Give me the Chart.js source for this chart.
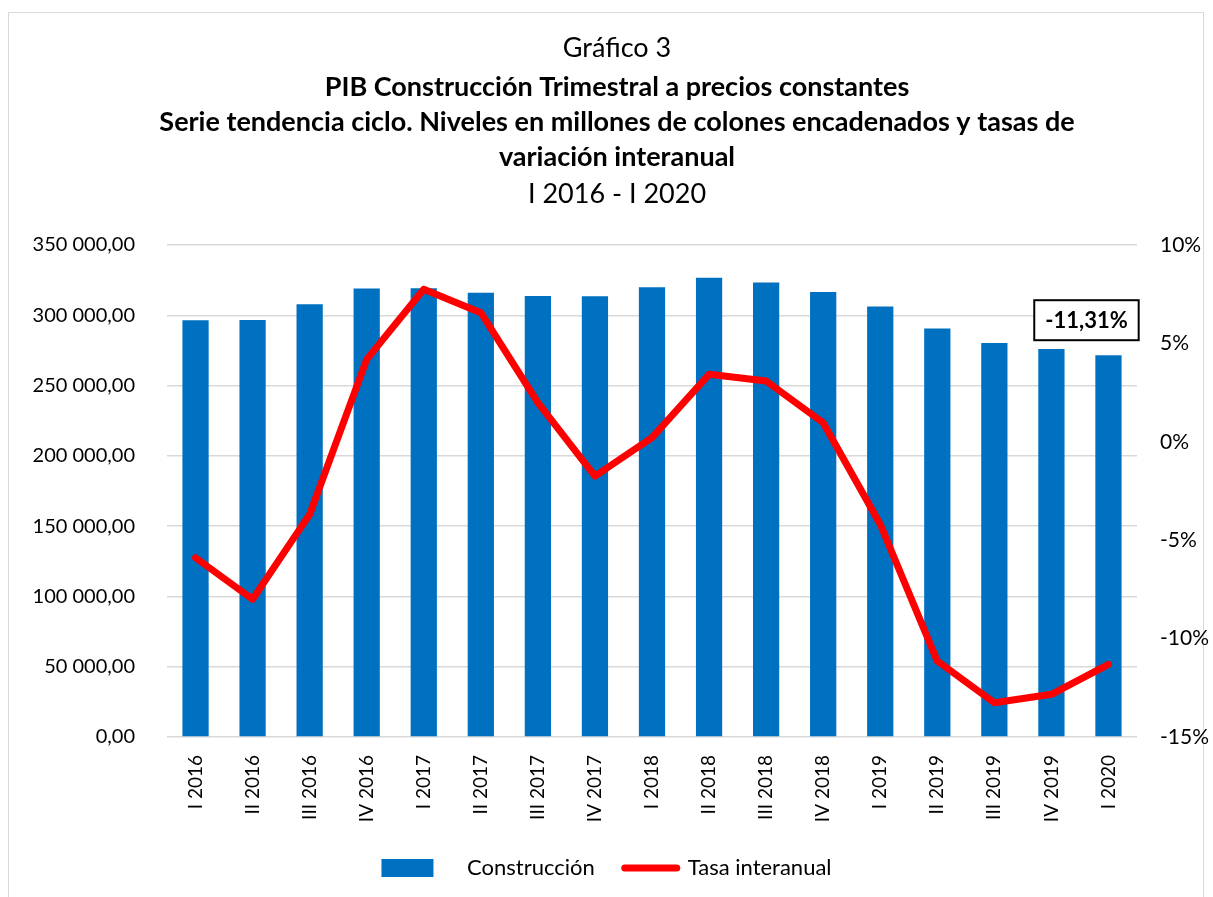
<!DOCTYPE html>
<html>
<head>
<meta charset="utf-8">
<script src="https://cdn.jsdelivr.net/npm/chart.js@4.4.1/dist/chart.umd.min.js"></script>
<style>
  html, body { margin: 0; padding: 0; background: #fff; }
  #wrap { position: relative; width: 1213px; height: 897px; }
  #frame { position: absolute; left: 8px; top: 12px; width: 1196px; height: 900px; border: 1px solid #d9d9d9; box-sizing: border-box; }
  canvas { position: absolute; left: 0; top: 0; }
</style>
</head>
<body>
<div id="wrap">
  <div id="frame"></div>
  <canvas id="pibChart" width="1213" height="897"></canvas>
</div>
<script>
  const quarters = ['I 2016', 'II 2016', 'III 2016', 'IV 2016', 'I 2017', 'II 2017', 'III 2017', 'IV 2017',
    'I 2018', 'II 2018', 'III 2018', 'IV 2018', 'I 2019', 'II 2019', 'III 2019', 'IV 2019', 'I 2020'];
  const construccion = [296500, 296700, 307900, 319100, 319300, 316000, 313800, 313600,
    320000, 326700, 323400, 316500, 306300, 290600, 280300, 276100, 271600];
  const tasaInteranual = [-5.89, -8.0, -3.69, 4.19, 7.75, 6.56, 1.99, -1.74,
    0.21, 3.43, 3.09, 0.97, -4.19, -11.14, -13.26, -12.83, -11.31];
  const titleLines = [
    { text: 'Gráfico 3', bold: false },
    { text: 'PIB Construcción Trimestral a precios constantes', bold: true },
    { text: 'Serie tendencia ciclo. Niveles en millones de colones encadenados y tasas de', bold: true },
    { text: 'variación interanual', bold: true },
    { text: 'I 2016 - I 2020', bold: false }
  ];
  const lastLabel = '-11,31%';

  const FONT = 'Lato, "Open Sans", sans-serif';
  const BLUE = '#0070C0';
  const RED = '#FF0000';

  function formatNivel(v) {
    return String(v).replace(/\B(?=(\d{3})+(?!\d))/g, ' ') + ',00';
  }

  // draws the five title lines at the top
  const titlePlugin = {
    id: 'titleBlock',
    afterDraw(chart) {
      const ctx = chart.ctx;
      const ys = [48, 87, 122, 157, 194];
      ctx.save();
      ctx.fillStyle = '#000';
      ctx.textAlign = 'center';
      ctx.textBaseline = 'middle';
      titleLines.forEach((l, i) => {
        ctx.font = (l.bold ? 'bold 27px ' : '27px ') + FONT;
        ctx.fillText(l.text, 617, ys[i]);
      });
      ctx.restore();
    }
  };

  // boxed label for the last value of the rate
  const lastValuePlugin = {
    id: 'lastValue',
    afterDatasetsDraw(chart) {
      const ctx = chart.ctx;
      const pt = chart.getDatasetMeta(1).data[quarters.length - 1];
      const bar = chart.getDatasetMeta(0).data[quarters.length - 1];
      const cx = pt.x - 22;
      const cy = bar.y - 35;
      ctx.save();
      ctx.font = 'bold 22px ' + FONT;
      const w = ctx.measureText(lastLabel).width + 22;
      const h = 40;
      ctx.fillStyle = '#fff';
      ctx.fillRect(cx - w / 2, cy - h / 2, w, h);
      ctx.strokeStyle = '#000';
      ctx.lineWidth = 2;
      ctx.strokeRect(cx - w / 2, cy - h / 2, w, h);
      ctx.fillStyle = '#000';
      ctx.textAlign = 'center';
      ctx.textBaseline = 'middle';
      ctx.fillText(lastLabel, cx, cy + 1);
      ctx.restore();
    }
  };

  new Chart(document.getElementById('pibChart'), {
    type: 'bar',
    data: {
      labels: quarters,
      datasets: [{
        label: 'Construcción',
        data: construccion,
        backgroundColor: BLUE,
        yAxisID: 'y',
        barPercentage: 0.46,
        categoryPercentage: 1,
        order: 1
      }, {
        type: 'line',
        label: 'Tasa interanual',
        data: tasaInteranual,
        borderColor: RED,
        borderWidth: 7,
        pointRadius: 0,
        tension: 0,
        borderCapStyle: 'round',
        borderJoinStyle: 'round',
        yAxisID: 'y1',
        order: 0
      }]
    },
    options: {
      responsive: false,
      animation: false,
      layout: { padding: { top: 245, bottom: 8, left: 0, right: 0 } },
      plugins: {
        title: { display: false },
        tooltip: { enabled: false },
        legend: {
          position: 'bottom',
          labels: {
            font: { family: FONT, size: 22 },
            color: '#000',
            usePointStyle: true,
            pointStyleWidth: 52,
            boxHeight: 18,
            padding: 30,
            generateLabels() {
              return [
                { text: '    Construcción', fillStyle: BLUE, strokeStyle: BLUE, lineWidth: 0, pointStyle: 'rect', datasetIndex: 0 },
                { text: 'Tasa interanual', fillStyle: RED, strokeStyle: RED, lineWidth: 7, lineCap: 'round', pointStyle: 'line', datasetIndex: 1 }
              ];
            }
          }
        }
      },
      scales: {
        x: {
          grid: { display: false },
          border: { display: false },
          ticks: {
            font: { family: FONT, size: 19 },
            color: '#000',
            minRotation: 90,
            maxRotation: 90,
            padding: 10
          },
          afterFit(scale) { scale.height = 90; }
        },
        y: {
          position: 'left',
          min: 0,
          max: 350000,
          ticks: {
            stepSize: 50000,
            font: { family: FONT, size: 20 },
            color: '#000',
            padding: 32,
            callback: v => formatNivel(v)
          },
          grid: { color: '#d9d9d9', lineWidth: 1.5, drawTicks: false },
          border: { display: false },
          afterFit(scale) { scale.width = 167; }
        },
        y1: {
          position: 'right',
          min: -15,
          max: 10,
          ticks: {
            stepSize: 5,
            font: { family: FONT, size: 21 },
            color: '#000',
            padding: 23,
            callback: v => v + '%'
          },
          grid: { drawOnChartArea: false, drawTicks: false },
          border: { display: false },
          afterFit(scale) { scale.width = 76; }
        }
      }
    },
    plugins: [titlePlugin, lastValuePlugin]
  });
</script>
</body>
</html>
